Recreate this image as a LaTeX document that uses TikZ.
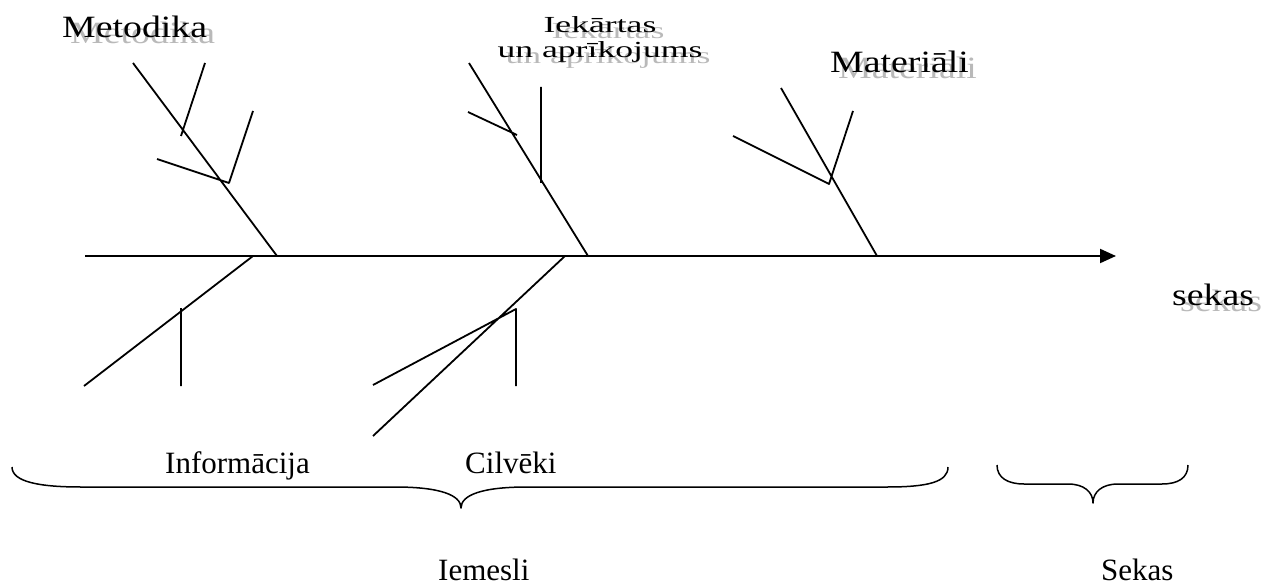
\documentclass[tikz,border=0pt]{standalone}
\usepackage{fontspec}
\setmainfont{Liberation Serif}
\newfontfamily\wideserif[FakeStretch=1.22]{Liberation Serif}
\newfontfamily\widerserif[FakeStretch=1.55]{Liberation Serif}
\usetikzlibrary{arrows.meta}
\begin{document}
\begin{tikzpicture}[x=1pt,y=-1pt,>={Triangle[length=16pt,width=14pt]},line join=round,
	bone/.style={line width=1.8pt},
	brc/.style={line width=1.5pt},
	txt/.style={inner sep=0pt,anchor=base west,font=\fontsize{31}{36}\selectfont},
	toptxt/.style={inner sep=0pt,anchor=base west,font=\wideserif\fontsize{31}{36}\selectfont},
	shd/.style={text=gray!55,xshift=8pt,yshift=-6pt}]
	\useasboundingbox (0,0) rectangle (1265,585);
	% galvena ass
	\draw[->,line width=2pt] (85,256)--(1116,256);
	% augsejie kauli
	\draw[bone] (133,63)--(277,256) (205,63)--(181,136) (253,111)--(229,183)--(157,159);
	\draw[bone] (469,63)--(588,256) (468,112)--(517,135) (541,87)--(541,183);
	\draw[bone] (781,88)--(877,256) (733,136)--(829,184)--(853,111);
	% apaksejie kauli
	\draw[bone] (253,256)--(84,386) (181,308)--(181,386);
	\draw[bone] (565,256)--(373,436) (373,385)--(516,309)--(516,386);
	% uzraksti ar enu
	\node[toptxt,shd] (metodikaS) at (62,37.5) {Metodika};
	\node[toptxt] (metodika) at (62,37.5) {Metodika};
	\node[toptxt,shd] (materialiS) at (830,73) {Materiāli};
	\node[toptxt] (materiali) at (830,73) {Materiāli};
	\node[toptxt,shd] (sekasS) at (1172,305) {sekas};
	\node[toptxt] (sekas) at (1172,305) {sekas};
	\node[inner sep=0pt,anchor=north,align=center,font=\widerserif\fontsize{23}{25}\selectfont,shd] (iekartasS) at (600,16) {Iekārtas\\un aprīkojums};
	\node[inner sep=0pt,anchor=north,align=center,font=\widerserif\fontsize{23}{25}\selectfont] (iekartas) at (600,16) {Iekārtas\\un aprīkojums};
	% apaksa
	\node[txt] (informacija) at (165,473) {Informācija};
	\node[txt] (cilveki) at (465,473) {Cilvēki};
	\node[txt] (iemesli) at (438,580) {Iemesli};
	\node[txt] (sekasB) at (1101,580) {Sekas};
	% figuriekavas
	\draw[brc] (12,467) .. controls (12,482) and (40,487) .. (81,487) -- (395,487)
		.. controls (440,487) and (461,495) .. (461,508)
		.. controls (461,495) and (482,487) .. (527,487) -- (887,487)
		.. controls (928,487) and (948,482) .. (948,467);
	\draw[brc] (997,465) .. controls (997,478) and (1008,484) .. (1024,484) -- (1068,484)
		.. controls (1084,484) and (1093,492) .. (1093,503)
		.. controls (1093,492) and (1102,484) .. (1118,484) -- (1162,484)
		.. controls (1178,484) and (1188,478) .. (1188,465);
\end{tikzpicture}
\end{document}
